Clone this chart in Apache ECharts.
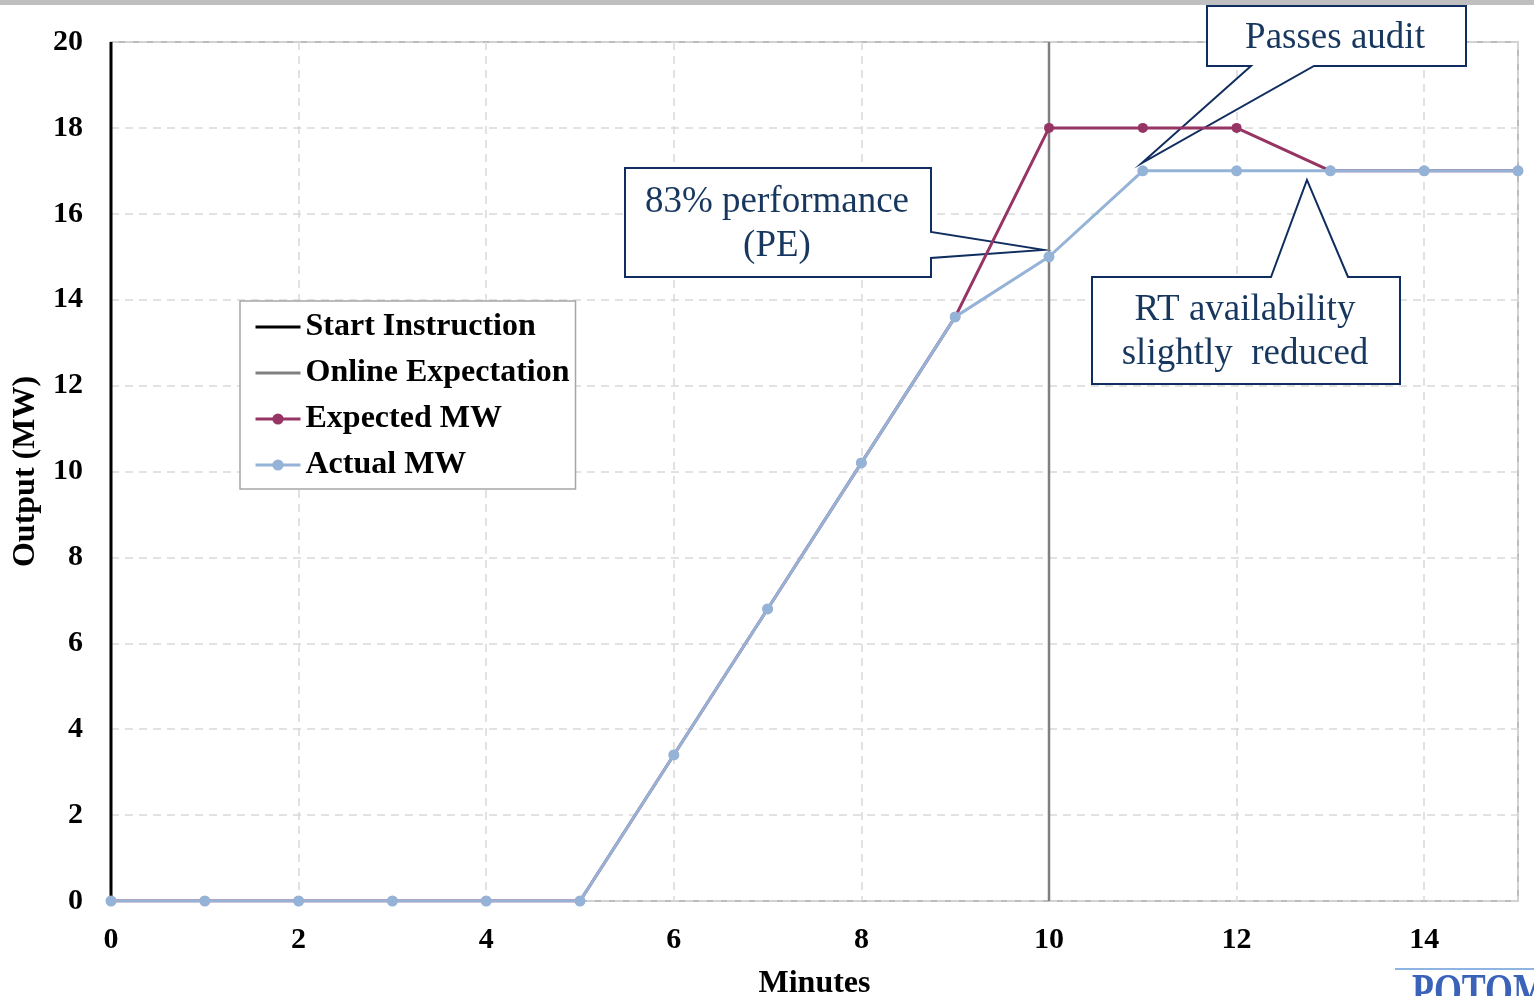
<!DOCTYPE html>
<html>
<head>
<meta charset="utf-8">
<script src="https://cdn.jsdelivr.net/npm/echarts@6/dist/echarts.min.js"></script>
<style>html,body{margin:0;padding:0;background:#fff;}#c{width:1534px;height:996px;}</style>
</head>
<body>
<div id="c"></div>
<script>
const minutes = [0,1,2,3,4,5,6,7,8,9,10,11,12,13,14,15];
const expectedMW = [0,0,0,0,0,0,3.4,6.8,10.2,13.6,18,18,18,17,17,17];
const actualMW   = [0,0,0,0,0,0,3.4,6.8,10.2,13.6,15,17,17,17,17,17];
const startInstructionMinute = 0;
const onlineExpectationMinute = 10;
const yTicks = [0,2,4,6,8,10,12,14,16,18,20];
const xTicks = [0,2,4,6,8,10,12,14];

const serif = '"Liberation Serif","Times New Roman",serif';
const navy = '#0F2D5E';
const textNavy = '#17375E';

const chart = echarts.init(document.getElementById('c'));
const pairs = (vals) => minutes.map((m, i) => [m, vals[i]]);

chart.setOption({
  backgroundColor: '#fff',
  animation: false,
  grid: { left: 111, right: 16, top: 42, bottom: 95, show: true, borderColor: '#A6A6A6', borderWidth: 1.5,
    containLabel: false, outerBoundsMode: 'none' },
  legend: {
    orient: 'vertical', left: 240, top: 301,
    padding: [10, 6, 8, 14],
    backgroundColor: '#fff', borderColor: '#A6A6A6', borderWidth: 1.5,
    itemWidth: 45, itemHeight: 14, itemGap: 14, itemTextGap: 0,
    textStyle: { fontFamily: serif, fontWeight: 'bold', fontSize: 32, color: '#000', lineHeight: 32 },
    data: [
      { name: 'Start Instruction', itemStyle: { opacity: 0 }, lineStyle: { width: 3 } },
      { name: 'Online Expectation', itemStyle: { opacity: 0 }, lineStyle: { width: 3 } },
      { name: 'Expected MW', lineStyle: { width: 3 } },
      { name: 'Actual MW', lineStyle: { width: 3 } }
    ]
  },
  xAxis: {
    type: 'value', min: 0, max: 15, interval: 2,
    name: 'Minutes', nameLocation: 'middle', nameGap: 67,
    nameTextStyle: { fontFamily: serif, fontWeight: 'bold', fontSize: 32, color: '#000' },
    axisLine: { show: false }, axisTick: { show: false },
    axisLabel: { fontFamily: serif, fontWeight: 'bold', fontSize: 30, color: '#000', margin: 24,
      formatter: (v) => xTicks.indexOf(v) >= 0 ? String(v) : '' },
    splitLine: { show: true, lineStyle: { color: '#D9D9D9', type: [8, 6], width: 1.5 } }
  },
  yAxis: {
    type: 'value', min: 0, max: 20, interval: 2,
    name: 'Output (MW)', nameLocation: 'middle', nameGap: 67,
    nameTextStyle: { fontFamily: serif, fontWeight: 'bold', fontSize: 32, color: '#000' },
    axisLine: { show: false }, axisTick: { show: false },
    axisLabel: { fontFamily: serif, fontWeight: 'bold', fontSize: 30, color: '#000', margin: 28,
      formatter: (v) => yTicks.indexOf(v) >= 0 ? String(v) : '' },
    splitLine: { show: true, lineStyle: { color: '#D9D9D9', type: [8, 6], width: 1.5 } }
  },
  series: [
    { name: 'Start Instruction', type: 'line', symbol: 'none', z: 3,
      lineStyle: { color: '#000', width: 3 }, itemStyle: { color: '#000' },
      data: [[startInstructionMinute, 0], [startInstructionMinute, 20]] },
    { name: 'Online Expectation', type: 'line', symbol: 'none', z: 3,
      lineStyle: { color: '#808080', width: 2.5 }, itemStyle: { color: '#808080' },
      data: [[onlineExpectationMinute, 0], [onlineExpectationMinute, 20]] },
    { name: 'Expected MW', type: 'line', symbol: 'circle', symbolSize: 10, z: 4,
      lineStyle: { color: '#963464', width: 3 }, itemStyle: { color: '#963464' },
      data: pairs(expectedMW) },
    { name: 'Actual MW', type: 'line', symbol: 'circle', symbolSize: 11, z: 5,
      lineStyle: { color: '#95B3D7', width: 3 }, itemStyle: { color: '#95B3D7' },
      data: pairs(actualMW) }
  ]
});

// Callout annotations: boxes in page pixels, pointer tips anchored to data coords
const callouts = [
  { lines: ['83% performance', '(PE)'], box: [625, 168, 931, 277], side: 'right', base: [232, 258], tip: [9.94, 15.16], cx: 777, cy: [202, 246] },
  { lines: ['Passes audit'], box: [1207, 6, 1466, 66], side: 'bottom', base: [1251, 1314], tip: [10.99, 17.18], cx: 1335, cy: [38] },
  { lines: ['RT availability', 'slightly  reduced'], box: [1092, 277, 1400, 384], side: 'top', base: [1271, 1348], tip: [12.75, 16.79], cx: 1245, cy: [310, 354] }
];

const g = [
  { type: 'rect', z: 10, shape: { x: 0, y: 0, width: 1534, height: 5 }, style: { fill: '#BFBFBF' } },
  { type: 'line', z: 10, shape: { x1: 1395, y1: 969, x2: 1534, y2: 969 }, style: { stroke: '#8DB4E2', lineWidth: 2 } },
  { type: 'text', z: 10, x: 1412, y: 971, scaleX: 0.78, style: { text: 'POTOMAC', font: 'bold 46px ' + serif, fill: '#3A62B8', textVerticalAlign: 'top' } }
];

callouts.forEach(c => {
  const [l, t, r, b] = c.box;
  const tp = chart.convertToPixel({ gridIndex: 0 }, c.tip);
  let pts;
  if (c.side === 'right') {
    pts = [[l, t], [r, t], [r, c.base[0]], tp, [r, c.base[1]], [r, b], [l, b]];
  } else if (c.side === 'bottom') {
    pts = [[l, t], [r, t], [r, b], [c.base[1], b], tp, [c.base[0], b], [l, b]];
  } else {
    pts = [[l, t], [c.base[0], t], tp, [c.base[1], t], [r, t], [r, b], [l, b]];
  }
  g.push({ type: 'polygon', z: 1, shape: { points: pts }, style: { fill: '#fff', stroke: navy, lineWidth: 2 } });
  c.lines.forEach((txt, i) => {
    g.push({ type: 'text', z: 1, x: c.cx, y: c.cy[i],
      style: { text: txt, font: '37px ' + serif, fill: textNavy, textAlign: 'center', textVerticalAlign: 'middle' } });
  });
});

chart.setOption({ graphic: g });
</script>
</body>
</html>
